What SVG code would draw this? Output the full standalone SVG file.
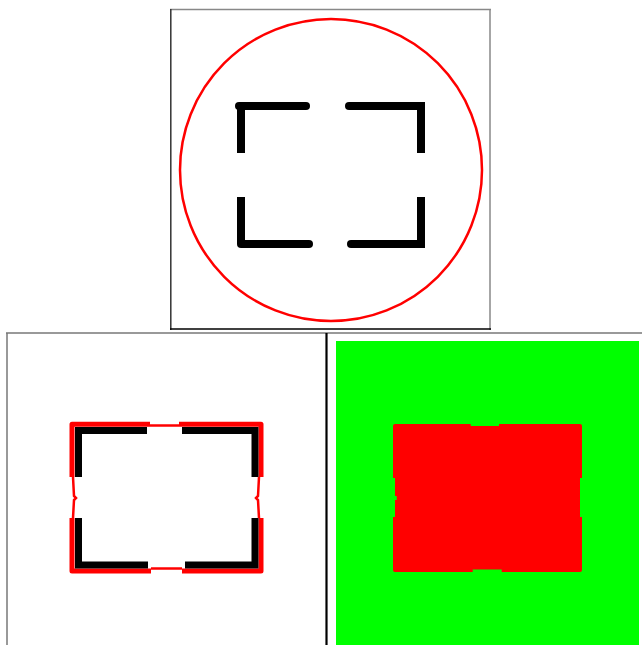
<svg xmlns="http://www.w3.org/2000/svg" width="642" height="645" viewBox="0 0 642 645">
<style>
.blk{fill:none;stroke:#000;stroke-width:8}
.rnd{stroke-linecap:round}
.blk2{fill:none;stroke:#000;stroke-width:7;stroke-linejoin:miter}
.red{fill:none;stroke:#f00;stroke-width:5;stroke-linejoin:round}
.redthin{fill:none;stroke:#f00;stroke-width:2.5}
</style>
<rect width="642" height="645" fill="#fff"/>
<g id="frames">
  <line x1="170" y1="9.5" x2="491" y2="9.5" stroke="#888" stroke-width="1.5"/>
  <line x1="170.8" y1="9" x2="170.8" y2="330" stroke="#333" stroke-width="1.5"/>
  <line x1="490" y1="9" x2="490" y2="330" stroke="#888" stroke-width="1.5"/>
  <line x1="170" y1="329" x2="491" y2="329" stroke="#000" stroke-width="1.5"/>
  <line x1="6" y1="333" x2="642" y2="333" stroke="#777" stroke-width="1.5"/>
  <line x1="7" y1="333" x2="7" y2="645" stroke="#777" stroke-width="1.5"/>
  <line x1="326.5" y1="333" x2="326.5" y2="645" stroke="#000" stroke-width="2.2"/>
</g>
<g id="top-panel">
  <circle cx="331" cy="170" r="151" fill="none" stroke="#f00" stroke-width="2.5"/>
  <line class="blk" x1="241" y1="153" x2="241" y2="106"/>
  <line class="blk rnd" x1="239" y1="106" x2="306" y2="106"/>
  <line class="blk rnd" x1="349" y1="106" x2="421" y2="106"/>
  <line class="blk" x1="421" y1="102" x2="421" y2="153"/>
  <line class="blk" x1="241" y1="197" x2="241" y2="244"/>
  <line class="blk rnd" x1="241" y1="244" x2="309" y2="244"/>
  <line class="blk rnd" x1="351" y1="244" x2="421" y2="244"/>
  <line class="blk" x1="421" y1="197" x2="421" y2="248"/>
</g>
<g id="bottom-left-panel">
  <path class="red" d="M72,477 V424.3 H150"/>
  <path class="red" d="M179,424.3 H261 V477"/>
  <path class="red" d="M72,518 V571 H151"/>
  <path class="red" d="M182,571 H261 V518"/>
  <path class="redthin" d="M150,425.5 H179"/>
  <path class="redthin" d="M151,568.5 H182"/>
  <path class="redthin" d="M73,477 L74,496 L76,498 L74,500 L73,518"/>
  <path class="redthin" d="M259,477 L258,496 L256,498 L258,500 L259,518"/>
  <path class="blk2" d="M78.5,477 V430.5 H147"/>
  <path class="blk2" d="M182,430.5 H255 V477"/>
  <path class="blk2" d="M78.5,518 V565 H148"/>
  <path class="blk2" d="M185,565 H255 V518"/>
</g>
<g id="bottom-right-panel">
  <rect x="336" y="341" width="303" height="304" fill="#0f0"/>
  <path fill="#f00" d="M395,424 H470.7 V426 H499 V424 H580 Q582,424 582,426 V478 H580 V517 H582 V570 Q582,572 580,572 H501.7 V569.5 H472.7 V572 H395 Q393,572 393,570 V517 H395 V500 H396.7 V496 H395 V478 H393 V426 Q393,424 395,424 Z"/>
</g>
</svg>
